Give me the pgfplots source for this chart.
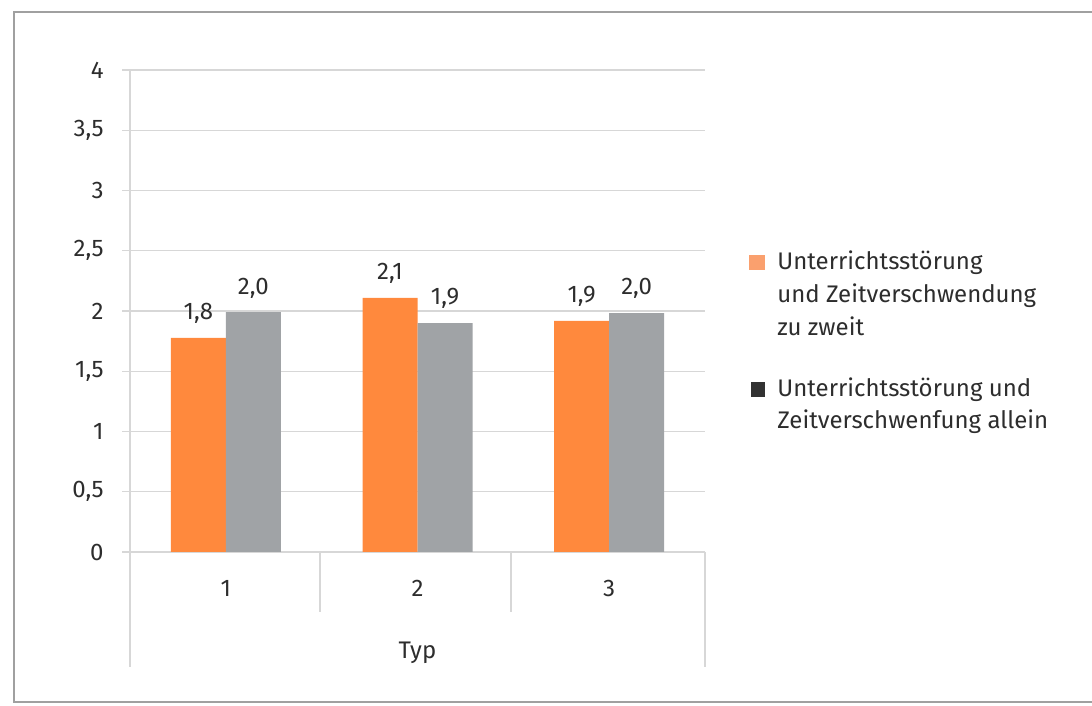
\documentclass[border=0pt]{standalone}
\usepackage{pgfplots}
\pgfplotsset{compat=1.18}
\usepackage{pgfplotstable}
\usepackage{fontspec}
\setmainfont{Fira Sans}
\definecolor{barorange}{RGB}{255,137,61}
\definecolor{bargray}{RGB}{160,163,166}
\definecolor{legorange}{RGB}{250,160,110}
\definecolor{legdark}{RGB}{50,50,50}
\definecolor{gridgray}{RGB}{215,215,215}
\definecolor{framegray}{RGB}{160,160,160}
\definecolor{textgray}{RGB}{45,45,45}
\pgfplotstableread{
x y label
1 1.776 1,8
2 2.108 2,1
3 1.917 1,9
}\zweit
\pgfplotstableread{
x y label
1 1.99 2,0
2 1.90 1,9
3 1.983 2,0
}\allein
\begin{document}
\begin{tikzpicture}[font=\fontsize{12}{14}\selectfont]
\path[use as bounding box] (0,0) rectangle (546pt,353pt);
\begin{scope}[x=0.5pt,y=-0.5pt,yshift=353pt]
 \draw[framegray, line width=1pt] (1092,12) -- (14,12) -- (14,702) -- (1092,702);
 \draw[gridgray, line width=0.6pt] (130,70) -- (130,667);
 \draw[gridgray, line width=0.6pt] (705,552) -- (705,667);
 \draw[gridgray, line width=0.6pt] (320,552) -- (320,612);
 \draw[gridgray, line width=0.6pt] (511,552) -- (511,612);
 \fill[legorange] (749,255) rectangle (765,270);
 \node[anchor=base west, inner sep=0pt, text=textgray] at (777,270) {Unterrichtsstörung};
 \node[anchor=base west, inner sep=0pt, text=textgray] at (777,303) {und Zeitverschwendung};
 \node[anchor=base west, inner sep=0pt, text=textgray] at (777,336) {zu zweit};
 \fill[legdark] (751,382) rectangle (765,397);
 \node[anchor=base west, inner sep=0pt, text=textgray] at (777,397) {Unterrichtsstörung und};
 \node[anchor=base west, inner sep=0pt, text=textgray] at (777,429) {Zeitverschwenfung allein};
\end{scope}
\begin{axis}[
 at={(65pt,77pt)}, anchor=south west, scale only axis,
 width=287.5pt, height=241pt,
 xmin=0.5, xmax=3.5, ymin=0, ymax=4,
 ybar=0pt, bar width=27.5pt,
 axis line style={draw=none},
 ymajorgrids, grid style={gridgray, line width=0.6pt},
 ytick={0,0.5,1,1.5,2,2.5,3,3.5,4},
 ytick pos=left,
 xtick={1,2,3},
 x tick style={draw=none},
 y tick style={gridgray, line width=0.6pt},
 tick align=outside, major tick length=4pt,
 /pgf/number format/use comma,
 /pgf/number format/assume math mode=true,
 ticklabel style={text=textgray, font=\fontsize{12}{14}\selectfont},
 yticklabel style={anchor=east, inner sep=0pt, xshift=-9pt},
 xticklabel style={anchor=base, inner sep=0pt, yshift=-18.5pt},
 xlabel={Typ},
 xlabel style={at={(axis description cs:0.5,0)}, anchor=base, inner sep=0pt, yshift=-53pt, text=textgray},
 nodes near coords, point meta=explicit symbolic,
 every node near coord/.append style={text=textgray, font=\fontsize{12}{14}\selectfont, yshift=3.5pt},
]
\addplot[fill=barorange, draw=none] table[x=x, y=y, meta=label] {\zweit};
\addplot[fill=bargray, draw=none] table[x=x, y=y, meta=label] {\allein};
\end{axis}
\end{tikzpicture}
\end{document}
